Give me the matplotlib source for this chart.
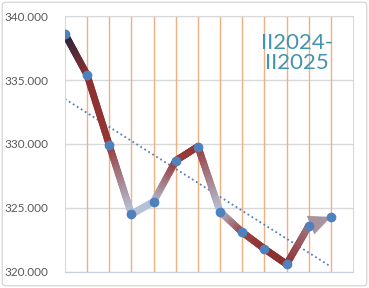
import numpy as np
import matplotlib
matplotlib.use('Agg')
import matplotlib.pyplot as plt
from matplotlib.collections import LineCollection
from matplotlib.colors import to_rgb
from matplotlib.patches import FancyBboxPatch, Polygon
from matplotlib.transforms import IdentityTransform

# data (13 periods, no x labels shown)
periods = list(range(13))
values = [338.6, 335.4, 329.9, 324.5, 325.5, 328.7, 329.8,
          324.7, 323.1, 321.8, 320.6, 323.6, 324.3]
yticks = [320, 325, 330, 335, 340]
title_text = 'II2024-\nII2025'

# colour of the gradient line at each point
point_colors = ['#1c2340', '#8c2f2f', '#943634', '#b7c3da', '#b4c0d7', '#973c3c',
                '#943634', '#b5c1d8', '#9a4a4a', '#8f3333', '#8c2f2f', '#a0707a', '#a8949e']

plt.rcParams['font.family'] = ['Lato', 'DejaVu Sans']

fig = plt.figure(figsize=(3.69, 2.88), dpi=100)
fig.patches.append(FancyBboxPatch((0.006, 0.008), 0.988, 0.984, boxstyle='round,pad=0,rounding_size=0.01',
                                  transform=fig.transFigure, fill=False, ec='#d9d9d9', lw=1))
ax = fig.add_axes([0.176, 0.056, 0.781, 0.888])
ax.set_xlim(0, 13)
ax.set_ylim(320, 340)

x = np.array(periods, dtype=float)
y = np.array(values)

# vertical category lines and horizontal grid
for xi in x[1:]:
    ax.axvline(xi, color='#f0b080', lw=1, zorder=1)
ax.set_yticks(yticks)
ax.yaxis.grid(True, color='#d9d9d9', lw=1)
ax.set_axisbelow(True)

# arrow head on the last piece, built in pixel space
p_a = ax.transData.transform((x[-2], y[-2]))
p_b = ax.transData.transform((x[-1], y[-1]))
d = (p_b - p_a) / np.hypot(*(p_b - p_a))
nrm = np.array([-d[1], d[0]])
head_len, head_w = 22, 10
base = p_b - d * head_len
head = Polygon([p_b, base + nrm * head_w, base - nrm * head_w], closed=True,
               transform=IdentityTransform(), fc=point_colors[-1], ec='none', zorder=3)
ax.add_patch(head)
end_last = ax.transData.inverted().transform(base + d * 2)

# gradient line, split into short pieces
segs, cols = [], []
n = 30
for i in range(len(x) - 1):
    x0, y0, x1, y1 = x[i], y[i], x[i + 1], y[i + 1]
    if i == len(x) - 2:
        x1, y1 = end_last
    c0, c1 = np.array(to_rgb(point_colors[i])), np.array(to_rgb(point_colors[i + 1]))
    for k in range(n):
        t0, t1 = k / n, (k + 1) / n
        segs.append([(x0 + (x1 - x0) * t0, y0 + (y1 - y0) * t0),
                     (x0 + (x1 - x0) * t1, y0 + (y1 - y0) * t1)])
        cols.append(c0 + (c1 - c0) * (t0 + t1) / 2)
lc = LineCollection(segs, colors=cols, linewidths=5, capstyle='round', zorder=3)
ax.add_collection(lc)

ax.plot(x, y, 'o', color='#4f81bd', ms=6, zorder=4)

# linear trend line
k, b = np.polyfit(x, y, 1)
ax.plot(x, k * x + b, color='#4f81bd', lw=1.3, ls=(0, (1, 1.6)), zorder=2)

ax.text(10.45, 337.15, title_text, ha='center', va='center', fontsize=16,
        color='#4294ae', linespacing=1.0, zorder=5)

ax.set_xticks([])
ax.set_yticklabels(['%.3f' % v for v in yticks])
ax.tick_params(axis='y', length=0, pad=12, labelsize=8.5, labelcolor='#595959')
for s in ax.spines.values():
    s.set_color('#d9d9d9')
ax.spines['bottom'].set_color('#c8d0e0')

plt.savefig('out.png', dpi=100)
